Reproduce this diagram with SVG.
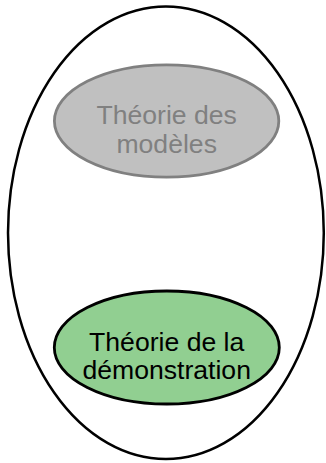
<svg xmlns="http://www.w3.org/2000/svg" width="326" height="463" viewBox="0 0 326 463">
<style>
.lbl{font-family:"Liberation Sans",Arial,sans-serif;font-size:26.6px;text-anchor:middle}
.node{stroke-width:2.8}
</style>
<rect width="326" height="463" fill="#ffffff"/>
<g id="outer">
<ellipse cx="165.9" cy="232.8" rx="157.9" ry="226.3" fill="none" stroke="#000" stroke-width="2.5"/>
</g>
<g id="connectors"></g>
<g id="models">
<ellipse class="node" cx="166.6" cy="121" rx="112.2" ry="56.2" fill="#c0c0c0" stroke="#808080"/>
<text class="lbl" x="166.7" y="124.3" fill="#808080">Théorie des</text>
<text class="lbl" x="166.7" y="152.5" fill="#808080">modèles</text>
</g>
<g id="proof">
<ellipse class="node" cx="166.8" cy="347.5" rx="112.5" ry="56.5" fill="#91cf91" stroke="#000"/>
<text class="lbl" x="166.7" y="351" fill="#000">Théorie de la</text>
<text class="lbl" x="166.7" y="379.3" fill="#000">démonstration</text>
</g>
</svg>
